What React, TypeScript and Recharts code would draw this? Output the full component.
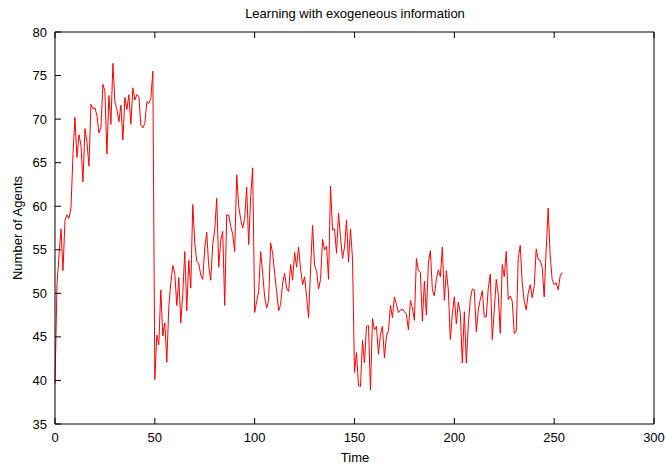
import React from "react";
import { LineChart, Line, XAxis, YAxis } from "recharts";

const title = "Learning with exogeneous information";
const xLabel = "Time";
const yLabel = "Number of Agents";
const xTicks = [0, 50, 100, 150, 200, 250, 300];
const yTicks = [35, 40, 45, 50, 55, 60, 65, 70, 75, 80];

const agents = [
  39.6, 51.0, 54.3, 57.4, 52.6, 58.4, 59.0, 58.6, 59.8, 65.9,
  70.2, 65.6, 68.2, 67.0, 62.8, 68.9, 67.4, 64.6, 71.7, 71.2,
  71.3, 70.4, 68.4, 69.0, 74.0, 73.2, 66.0, 72.7, 69.4, 76.4,
  72.0, 71.1, 69.7, 71.6, 67.6, 72.5, 71.1, 72.8, 69.4, 73.6,
  72.2, 72.8, 72.6, 69.3, 69.0, 69.5, 72.0, 71.8, 72.4, 75.5,
  40.1, 45.2, 44.1, 50.4, 45.1, 46.6, 42.1, 48.5, 51.2, 53.2,
  52.3, 48.6, 51.8, 46.6, 50.0, 54.8, 48.0, 53.8, 50.6, 60.2,
  55.8, 53.7, 53.4, 52.1, 51.6, 55.2, 57.0, 53.1, 51.5, 55.6,
  57.3, 60.9, 53.0, 56.1, 57.1, 48.6, 59.0, 59.0, 57.7, 56.8,
  54.8, 63.6, 60.0, 58.5, 57.5, 58.6, 62.2, 55.6, 61.1, 64.4,
  47.8, 49.1, 50.2, 54.8, 52.3, 49.6, 48.3, 49.2, 55.8, 54.6,
  52.3, 50.2, 48.0, 48.7, 51.2, 52.3, 50.6, 50.2, 53.3, 51.5,
  54.7, 53.0, 55.3, 52.8, 51.0, 51.9, 49.6, 47.2, 52.8, 57.8,
  53.2, 52.6, 50.5, 51.6, 56.2, 55.0, 55.4, 51.6, 62.3, 57.3,
  57.4, 54.6, 59.2, 56.4, 54.0, 55.3, 58.4, 53.6, 57.4, 54.0,
  40.9, 43.2, 39.4, 39.3, 44.6, 42.0, 46.2, 46.3, 38.9, 47.1,
  45.8, 46.2, 43.0, 45.3, 46.2, 42.6, 45.1, 45.7, 48.6, 47.2,
  49.6, 48.7, 47.8, 48.1, 48.2, 47.9, 47.6, 45.8, 49.2, 48.3,
  46.9, 54.0, 52.6, 52.4, 46.8, 51.4, 47.5, 53.5, 54.9, 50.4,
  49.7, 51.6, 52.7, 51.9, 55.3, 49.2, 52.6, 50.4, 44.7, 47.6,
  49.6, 46.5, 49.0, 47.7, 42.0, 47.9, 42.0, 46.4, 49.3, 50.5,
  50.4, 45.6, 48.1, 49.3, 50.3, 47.3, 47.3, 50.6, 52.2, 44.7,
  48.1, 51.6, 49.9, 45.4, 53.3, 51.9, 54.8, 49.3, 49.7, 49.1,
  45.4, 45.6, 54.0, 55.5, 51.2, 49.1, 48.1, 50.0, 51.0, 49.5,
  50.8, 55.1, 53.9, 53.8, 53.0, 49.6, 55.0, 59.8, 54.3, 51.6,
  51.0, 51.2, 50.4, 52.0, 52.4,
];

const data = agents.map((v, t) => ({ t, v }));

const FONT = "'Liberation Sans', Arial, Helvetica, sans-serif";
const TICK = 6;

const BottomTick = (props: any) => {
  const { x, y, payload } = props;
  return (
    <g>
      <line x1={x} y1={y} x2={x} y2={y - TICK} stroke="#000" strokeWidth={1} />
      <text x={x} y={y + 18} textAnchor="middle" fontSize={13} fontFamily={FONT} fill="#000">
        {payload.value}
      </text>
    </g>
  );
};

const TopTick = (props: any) => {
  const { x, y } = props;
  return <line x1={x} y1={y} x2={x} y2={y + TICK} stroke="#000" strokeWidth={1} />;
};

const LeftTick = (props: any) => {
  const { x, y, payload } = props;
  return (
    <g>
      <line x1={x} y1={y} x2={x + TICK} y2={y} stroke="#000" strokeWidth={1} />
      <text x={x - 8} y={y} dy="0.35em" textAnchor="end" fontSize={13} fontFamily={FONT} fill="#000">
        {payload.value}
      </text>
    </g>
  );
};

const RightTick = (props: any) => {
  const { x, y } = props;
  return <line x1={x} y1={y} x2={x - TICK} y2={y} stroke="#000" strokeWidth={1} />;
};

export default function App() {
  return (
    <div style={{ position: "absolute", left: 0, top: 0, width: 666, height: 464, background: "#fff" }}>
      <LineChart width={666} height={464} data={data} margin={{ top: 31, right: 11, bottom: 0, left: 0 }}>
        <XAxis
          xAxisId="b"
          dataKey="t"
          type="number"
          domain={[0, 300]}
          ticks={xTicks}
          interval={0}
          height={40}
          axisLine={{ stroke: "#000", strokeWidth: 1 }}
          tickLine={false}
          tickSize={0}
          tickMargin={0}
          tick={<BottomTick />}
        />
        <XAxis
          xAxisId="t"
          orientation="top"
          dataKey="t"
          type="number"
          domain={[0, 300]}
          ticks={xTicks}
          interval={0}
          height={1}
          axisLine={{ stroke: "#000", strokeWidth: 1 }}
          tickLine={false}
          tickSize={0}
          tickMargin={0}
          tick={<TopTick />}
        />
        <YAxis
          yAxisId="l"
          type="number"
          domain={[35, 80]}
          ticks={yTicks}
          interval={0}
          width={55}
          axisLine={{ stroke: "#000", strokeWidth: 1 }}
          tickLine={false}
          tickSize={0}
          tickMargin={0}
          tick={<LeftTick />}
        />
        <YAxis
          yAxisId="r"
          orientation="right"
          type="number"
          domain={[35, 80]}
          ticks={yTicks}
          interval={0}
          width={1}
          axisLine={{ stroke: "#000", strokeWidth: 1 }}
          tickLine={false}
          tickSize={0}
          tickMargin={0}
          tick={<RightTick />}
        />
        <Line
          xAxisId="b"
          yAxisId="l"
          dataKey="v"
          type="linear"
          stroke="#ff0000"
          strokeWidth={1}
          dot={false}
          activeDot={false}
          isAnimationActive={false}
        />
        <text x={355} y={18} textAnchor="middle" fontSize={13} fontFamily={FONT} fill="#000">
          {title}
        </text>
        <text x={355} y={462} textAnchor="middle" fontSize={13} fontFamily={FONT} fill="#000">
          {xLabel}
        </text>
        <text
          x={17}
          y={228}
          dy="0.35em"
          textAnchor="middle"
          fontSize={13}
          fontFamily={FONT}
          fill="#000"
          transform="rotate(-90, 17, 228)"
        >
          {yLabel}
        </text>
      </LineChart>
    </div>
  );
}
